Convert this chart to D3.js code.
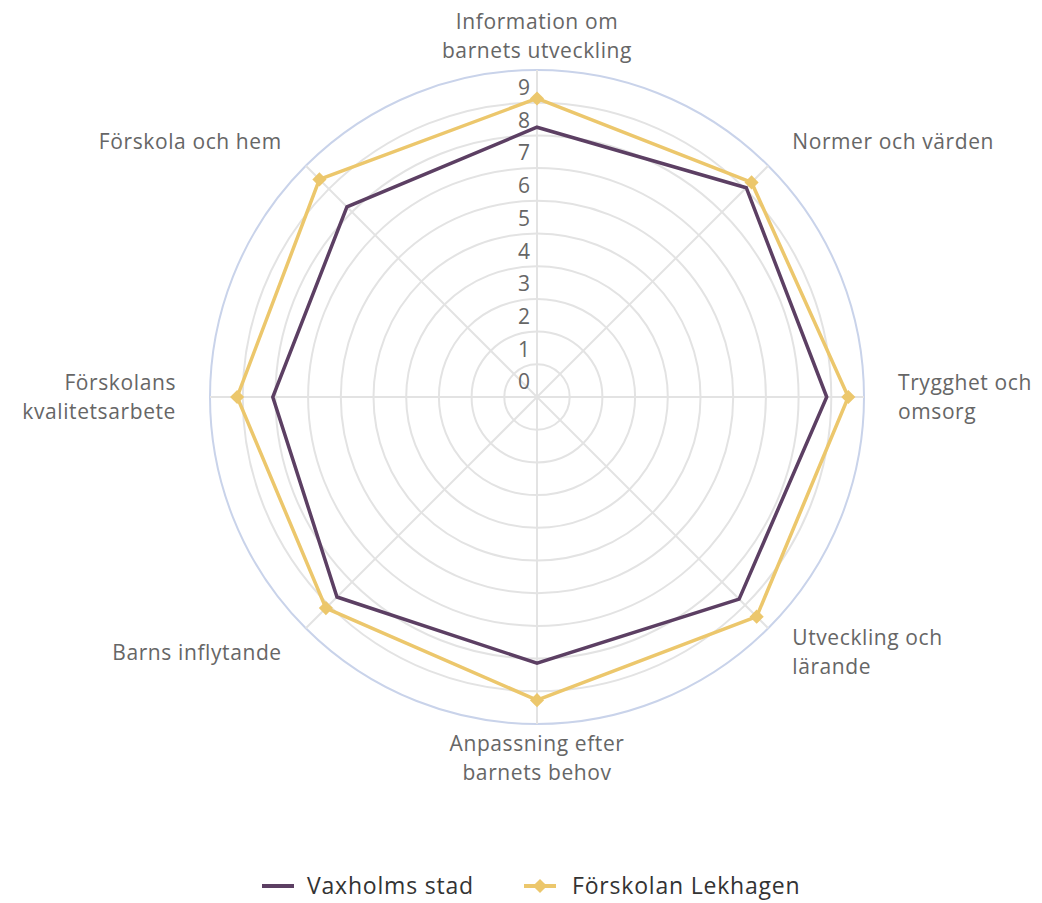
<!DOCTYPE html>
<html>
<head>
<meta charset="utf-8">
<script src="https://cdn.jsdelivr.net/npm/d3@7"></script>
<style>
  body { margin: 0; background: #fff; }
  svg { display: block; font-family: "Open Sans", sans-serif; }
</style>
</head>
<body>
<svg id="chart" width="1042" height="903"></svg>
<script>
const categories = [
  ["Information om", "barnets utveckling"],
  ["Normer och värden"],
  ["Trygghet och", "omsorg"],
  ["Utveckling och", "lärande"],
  ["Anpassning efter", "barnets behov"],
  ["Barns inflytande"],
  ["Förskolans", "kvalitetsarbete"],
  ["Förskola och hem"]
];
const vaxholm = [8.25, 9.05, 8.86, 8.74, 8.14, 8.65, 8.08, 8.22];
const lekhagen = [9.13, 9.28, 9.52, 9.5, 9.27, 9.13, 9.17, 9.41];
const tickValues = [0, 1, 2, 3, 4, 5, 6, 7, 8, 9];
const seriesNames = ["Vaxholms stad", "Förskolan Lekhagen"];

const colors = { vax: "#5c3f63", lek: "#ecc76c" };
const cx = 537, cy = 397, R = 327;

const svg = d3.select("#chart");
const r = d3.scaleLinear().domain([0, 10]).range([0, R]);
const angle = d3.scaleLinear().domain([0, categories.length]).range([0, 2 * Math.PI]);

const g = svg.append("g").attr("transform", `translate(${cx},${cy})`);

// Grid rings
g.selectAll(".ring")
  .data(d3.range(1, 11))
  .join("circle")
  .attr("r", d => r(d))
  .attr("fill", "none")
  .attr("stroke", d => d === 10 ? "#c9d3ea" : "#e3e3e3")
  .attr("stroke-width", 2);

// Spokes
g.selectAll(".spoke")
  .data(categories)
  .join("line")
  .attr("x1", 0).attr("y1", 0)
  .attr("x2", (d, i) => r(10) * Math.sin(angle(i)))
  .attr("y2", (d, i) => -r(10) * Math.cos(angle(i)))
  .attr("stroke", "#e3e3e3")
  .attr("stroke-width", 2);

// Tick labels
g.selectAll(".tick")
  .data(tickValues)
  .join("text")
  .attr("x", -7)
  .attr("y", d => -r(d) - 15)
  .attr("dy", "0.35em")
  .attr("text-anchor", "end")
  .attr("fill", "#666")
  .attr("font-size", 21)
  .text(d => d);

// Category labels
const labelR = R + 34;
categories.forEach((lines, i) => {
  const a = angle(i);
  const x = labelR * Math.sin(a), y = -labelR * Math.cos(a);
  const s = Math.sin(a);
  const anchor = Math.abs(s) < 0.01 ? "middle" : (s > 0 ? "start" : "end");
  const lh = 29;
  const t = g.append("text")
    .attr("text-anchor", anchor)
    .attr("fill", "#666")
    .attr("font-size", 21)
    .attr("letter-spacing", 0.6);
  lines.forEach((ln, j) => {
    t.append("tspan")
      .attr("x", x)
      .attr("y", y + (j - (lines.length - 1) / 2) * lh)
      .attr("dy", "0.35em")
      .text(ln);
  });
});

const line = d3.lineRadial()
  .angle((d, i) => angle(i))
  .radius(d => r(d))
  .curve(d3.curveLinearClosed);

g.append("path")
  .datum(vaxholm)
  .attr("d", line)
  .attr("fill", "none")
  .attr("stroke", colors.vax)
  .attr("stroke-width", 3.5);

g.append("path")
  .datum(lekhagen)
  .attr("d", line)
  .attr("fill", "none")
  .attr("stroke", colors.lek)
  .attr("stroke-width", 3.5);

const diamond = d3.symbol().type(d3.symbolSquare).size(100);
g.selectAll(".marker")
  .data(lekhagen)
  .join("path")
  .attr("d", diamond)
  .attr("fill", colors.lek)
  .attr("transform", (d, i) => {
    const a = angle(i);
    return `translate(${r(d) * Math.sin(a)},${-r(d) * Math.cos(a)}) rotate(45)`;
  });

// Legend
const legend = svg.append("g").attr("transform", "translate(0,886)");
legend.append("line")
  .attr("x1", 262).attr("x2", 294)
  .attr("stroke", colors.vax).attr("stroke-width", 4);
legend.append("text")
  .attr("x", 307).attr("dy", "0.35em")
  .attr("fill", "#333").attr("font-size", 23).attr("letter-spacing", 0.8)
  .text(seriesNames[0]);
legend.append("line")
  .attr("x1", 524).attr("x2", 556)
  .attr("stroke", colors.lek).attr("stroke-width", 4);
legend.append("path")
  .attr("d", diamond)
  .attr("fill", colors.lek)
  .attr("transform", "translate(540,0) rotate(45)");
legend.append("text")
  .attr("x", 572).attr("dy", "0.35em")
  .attr("fill", "#333").attr("font-size", 23).attr("letter-spacing", 0.8)
  .text(seriesNames[1]);
</script>
</body>
</html>
